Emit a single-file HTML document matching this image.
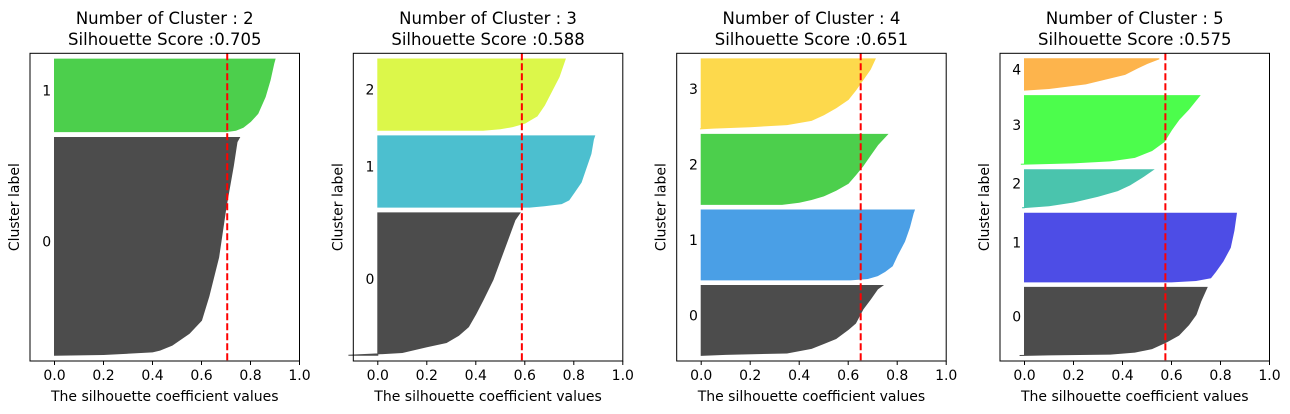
<!DOCTYPE html>
<html><head><meta charset="utf-8"><style>
html,body{margin:0;padding:0;background:#fff}
svg{display:block;font-family:"DejaVu Sans","Liberation Sans",sans-serif}
</style></head><body>
<svg id="chart" width="1290" height="414" viewBox="0 0 1290 414" xmlns="http://www.w3.org/2000/svg"></svg>
<script>
// Data
const clusterCounts = [2, 3, 4, 5];
const scores = [0.705, 0.588, 0.651, 0.575];
const sizes = [[375,125],[250,125,125],[125,125,125,125],[124,125,69,125,57]];
const colors = [
 ['#4c4c4c','#4ccf4c'],
 ['#4c4c4c','#4cbfcf','#dcf74a'],
 ['#4c4c4c','#4a9fe6','#4ccf4c','#fdd94c'],
 ['#4c4c4c','#4d4de6','#4ac4ad','#4cfd4c','#fdb44c']];
// silhouette profiles: [fraction, value] ascending within each cluster
const profiles = [
 [
  [[0,0.0],[0.003,0.2],[0.015,0.4],[0.023,0.43],[0.046,0.48],[0.1,0.55],[0.16,0.6],[0.27,0.63],[0.45,0.67],[0.68,0.70],[0.87,0.73],[0.98,0.745],[1,0.755]],
  [[0,0.70],[0.02,0.74],[0.06,0.77],[0.14,0.8],[0.25,0.83],[0.48,0.86],[0.71,0.88],[0.94,0.895],[1,0.9]]
 ],
 [
  [[0,-0.12],[0.008,-0.02],[0.02,0.1],[0.06,0.2],[0.09,0.28],[0.14,0.33],[0.2,0.37],[0.29,0.4],[0.39,0.43],[0.53,0.47],[0.67,0.5],[0.81,0.53],[0.95,0.56],[1,0.58]],
  [[0,0.62],[0.02,0.68],[0.05,0.75],[0.1,0.78],[0.2,0.8],[0.35,0.83],[0.55,0.85],[0.75,0.87],[0.95,0.88],[1,0.885]],
  [[0,0.43],[0.02,0.5],[0.05,0.55],[0.1,0.6],[0.2,0.65],[0.35,0.68],[0.55,0.71],[0.75,0.74],[0.95,0.76],[1,0.765]]
 ],
 [
  [[0,0.0],[0.015,0.1],[0.035,0.35],[0.1,0.45],[0.17,0.5],[0.24,0.55],[0.37,0.6],[0.46,0.63],[0.66,0.66],[0.8,0.69],[0.95,0.72],[1,0.74]],
  [[0,0.61],[0.02,0.68],[0.06,0.72],[0.12,0.75],[0.2,0.78],[0.35,0.8],[0.55,0.83],[0.75,0.85],[0.95,0.865],[1,0.87]],
  [[0,0.33],[0.03,0.4],[0.07,0.45],[0.12,0.5],[0.2,0.55],[0.3,0.6],[0.42,0.63],[0.55,0.66],[0.7,0.69],[0.85,0.72],[1,0.76]],
  [[0,-0.005],[0.01,0.05],[0.03,0.2],[0.06,0.35],[0.12,0.45],[0.2,0.5],[0.3,0.55],[0.42,0.6],[0.55,0.63],[0.7,0.66],[0.85,0.69],[1,0.71]]
 ],
 [
  [[0,-0.02],[0.01,0.1],[0.02,0.35],[0.05,0.45],[0.1,0.52],[0.2,0.58],[0.3,0.63],[0.45,0.67],[0.6,0.7],[0.8,0.72],[1,0.745]],
  [[0,0.6],[0.02,0.7],[0.06,0.76],[0.15,0.78],[0.3,0.81],[0.5,0.84],[0.75,0.855],[1,0.865]],
  [[0,-0.01],[0.05,0.1],[0.15,0.2],[0.3,0.3],[0.45,0.38],[0.6,0.43],[0.8,0.48],[1,0.525]],
  [[0,-0.015],[0.02,0.2],[0.05,0.35],[0.1,0.45],[0.2,0.52],[0.33,0.57],[0.5,0.6],[0.65,0.63],[0.8,0.67],[1,0.715]],
  [[0,0.0],[0.05,0.1],[0.2,0.25],[0.35,0.33],[0.5,0.41],[0.7,0.46],[0.85,0.5],[1,0.55]]
 ]];
const xTicks = [0.0,0.2,0.4,0.6,0.8,1.0];
const xTickLabels = ['0.0','0.2','0.4','0.6','0.8','1.0'];

const NS='http://www.w3.org/2000/svg';
const svg=document.getElementById('chart');
function mk(tag,attrs,parent){const e=document.createElementNS(NS,tag);for(const k in attrs)e.setAttribute(k,attrs[k]);(parent||svg).appendChild(e);return e;}
const lefts=[30,353.3,676.7,1000];
const W=269.5, TOP=53.3, BOT=361;
for(let p=0;p<4;p++){
  const L=lefts[p];
  const g=mk('g',{});
  
  
  const k=clusterCounts[p];
  const N=sizes[p].reduce((a,b)=>a+b,0);
  const ymax=N+10*(k+1);
  const sx=v=>L+(v+0.1)/1.1*W;
  const sy=v=>BOT-v/ymax*(BOT-TOP);
  let yl=10;
  for(let c=0;c<k;c++){
    const n=sizes[p][c], prof=profiles[p][c];
    let d='M'+sx(0)+','+sy(yl);
    prof.forEach(pt=>{d+=' L'+sx(pt[1])+','+sy(yl+pt[0]*n);});
    d+=' L'+sx(0)+','+sy(yl+n)+' Z';
    const path=mk('path',{d:d,fill:colors[p][c],stroke:colors[p][c],'stroke-width':1},g);
    
    
    const t=mk('text',{x:sx(-0.05),y:sy(yl+n/2),'font-size':14,'text-anchor':'start',fill:'#000'},g);
    t.textContent=String(c);
    
    
    yl+=n+10;
  }
  const ln=mk('line',{x1:sx(scores[p]),x2:sx(scores[p]),y1:TOP,y2:BOT,stroke:'#ff0000','stroke-width':2,'stroke-dasharray':'7,3'},g);
  
  
  const fr=mk('rect',{x:L,y:TOP,width:W,height:BOT-TOP,fill:'none',stroke:'#000','stroke-width':1},g);
  
  
  xTicks.forEach((v,i)=>{
    const tk=mk('line',{x1:sx(v),x2:sx(v),y1:BOT,y2:BOT+4,stroke:'#000','stroke-width':1},g);
    
    
    const tl=mk('text',{x:sx(v),y:BOT+19,'font-size':14,'text-anchor':'middle',fill:'#000'},g);
    tl.textContent=xTickLabels[i];
    
    
  });
  const xl=mk('text',{x:L+W/2,y:401,'font-size':14,'text-anchor':'middle',fill:'#000'},g);
  xl.textContent='The silhouette coefficient values';
  
  
  const yt=mk('text',{x:0,y:0,'font-size':14,'text-anchor':'middle',fill:'#000',transform:'translate('+(L-11)+','+((TOP+BOT)/2)+') rotate(-90)'},g);
  yt.textContent='Cluster label';
  
  
  const t1=mk('text',{x:L+W/2,y:24,'font-size':16.5,'text-anchor':'middle',fill:'#000'},g);
  t1.textContent='Number of Cluster : '+k;
  
  
  const t2=mk('text',{x:L+W/2,y:45,'font-size':16.5,'text-anchor':'middle',fill:'#000'},g);
  t2.textContent='Silhouette Score :'+scores[p].toFixed(3);
  
  
}
</script>
</body></html>
